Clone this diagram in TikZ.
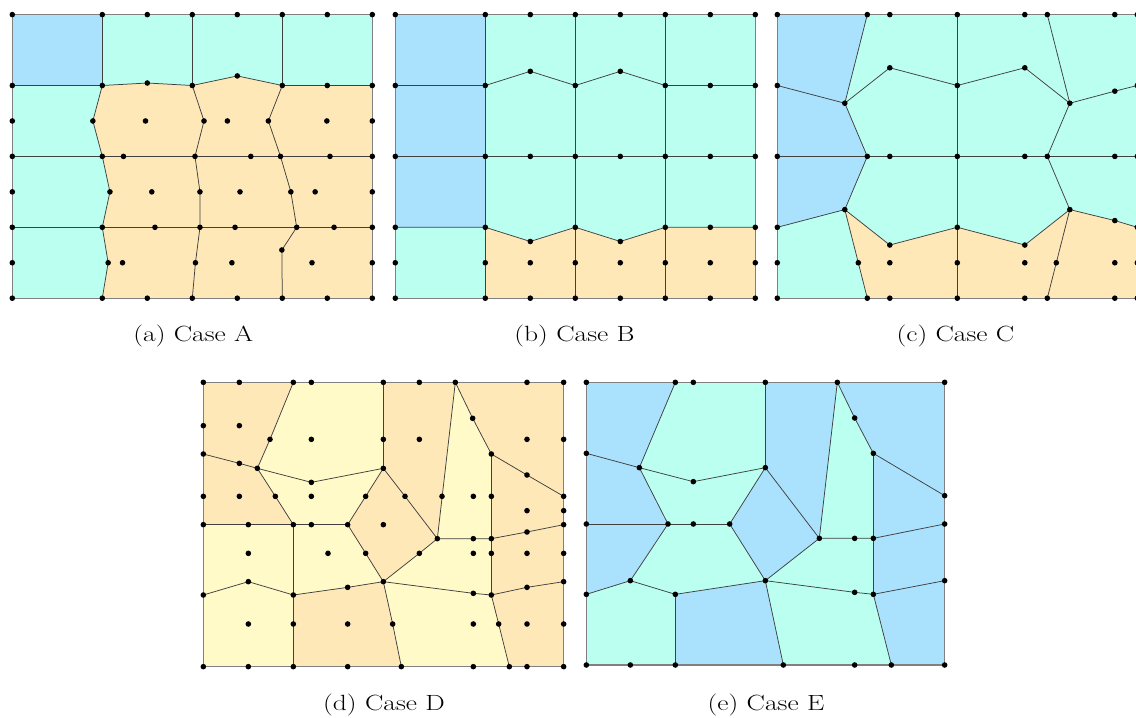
\documentclass[tikz,border=0pt]{standalone}
\usepackage{graphicx}
\definecolor{cblue}{HTML}{AAE2FD}
\definecolor{ccyan}{HTML}{BAFFEF}
\definecolor{corange}{HTML}{FFE8B8}
\definecolor{cyellow}{HTML}{FFFAC8}
\tikzset{
  meshline/.style={draw=black!75, line width=0.75pt, line join=round},
  frameline/.style={draw=black!50, line width=1.2pt},
  capt/.style={font=\fontsize{22}{26}\selectfont, anchor=base, inner sep=0pt},
}
\newcommand\mdots[1]{\foreach \p in {#1}{\fill \p circle[radius=2.8pt];}}
\begin{document}
\begin{tikzpicture}[x=1pt,y=-1pt]
\useasboundingbox (0,0) rectangle (1136,718);
\clip (0,0) rectangle (1136,718);

% ---------------- (a) ----------------
\begin{scope}[shift={(12.3pt,-14.6pt)}, x=45pt, y=-35.45pt]
  \fill[corange] (0,0) rectangle (8,8);
  \fill[cblue] (0,0) rectangle (2,2);
  \fill[ccyan] (2,0)--(8,0)--(8,2)--(6,2)--(5,1.73)--(4,2)--(3,1.93)--(2,2)--cycle;
  \fill[ccyan] (0,2)--(2,2)--(1.79,3)--(2,4)--(2.17,5)--(2,6)--(2.13,7)--(2,8)--(0,8)--cycle;
  \draw[meshline] (0,2)--(2,2)--(3,1.93)--(4,2)--(5,1.73)--(6,2)--(8,2);
  \draw[meshline] (2,0)--(2,2) (4,0)--(4,2) (6,0)--(6,2);
  \draw[meshline] (2,2)--(1.79,3)--(2,4)--(2.17,5)--(2,6)--(2.13,7)--(2,8);
  \draw[meshline] (0,4)--(8,4) (0,6)--(8,6);
  \draw[meshline] (4,2)--(4.26,3)--(4.06,4)--(4.17,5)--(4.17,6)--(4.07,7)--(4,8);
  \draw[meshline] (6,2)--(5.69,3)--(5.96,4)--(6.19,5)--(6.32,6)--(5.99,6.64)--(6,8);
  \draw[frameline] (0,0) rectangle (8,8);
  \mdots{(0,0),(2,0),(3,0),(4,0),(5,0),(6,0),(7,0),(8,0),
    (0,2),(2,2),(3,1.93),(4,2),(5,1.73),(6,2),(7,2),(8,2),
    (0,3),(1.79,3),(2.96,3),(4.26,3),(4.78,3),(5.69,3),(6.99,3),(8,3),
    (0,4),(2,4),(2.47,4),(4.06,4),(5.3,4),(5.96,4),(7.06,4),(8,4),
    (0,5),(2.17,5),(3.1,5),(4.17,5),(5.06,5),(6.19,5),(6.73,5),(8,5),
    (0,6),(2,6),(3.17,6),(4.17,6),(4.95,6),(6.32,6),(7.15,6),(8,6),
    (5.99,6.64),
    (0,7),(2.13,7),(2.45,7),(4.07,7),(4.88,7),(6.66,7),(8,7),
    (0,8),(2,8),(3,8),(4,8),(5,8),(6,8),(7,8),(8,8)}
\end{scope}

% ---------------- (b) ----------------
\begin{scope}[shift={(395.3pt,-14.6pt)}, x=45pt, y=-35.45pt]
  \fill[ccyan] (0,0) rectangle (8,8);
  \fill[cblue] (0,0) rectangle (2,6);
  \fill[corange] (2,6)--(3,6.4)--(4,6)--(5,6.4)--(6,6)--(8,6)--(8,8)--(2,8)--cycle;
  \draw[meshline] (0,2)--(2,2)--(3,1.6)--(4,2)--(5,1.6)--(6,2)--(8,2);
  \draw[meshline] (0,4)--(8,4);
  \draw[meshline] (0,6)--(2,6)--(3,6.4)--(4,6)--(5,6.4)--(6,6)--(8,6);
  \draw[meshline] (2,0)--(2,8) (4,0)--(4,8) (6,0)--(6,8);
  \draw[frameline] (0,0) rectangle (8,8);
  \mdots{(0,0),(2,0),(3,0),(4,0),(5,0),(6,0),(7,0),(8,0),
    (0,2),(2,2),(3,1.6),(4,2),(5,1.6),(6,2),(7,2),(8,2),
    (0,4),(2,4),(3,4),(4,4),(5,4),(6,4),(7,4),(8,4),
    (0,6),(2,6),(3,6.4),(4,6),(5,6.4),(6,6),(7,6),(8,6),
    (0,7),(2,7),(3,7),(4,7),(5,7),(6,7),(7,7),(8,7),
    (0,8),(2,8),(3,8),(4,8),(5,8),(6,8),(7,8),(8,8)}
\end{scope}

% ---------------- (c) ----------------
\begin{scope}[shift={(777.3pt,-14.6pt)}, x=45pt, y=-35.45pt]
  \fill[ccyan] (0,0) rectangle (8,8);
  \fill[cblue] (0,0)--(2,0)--(1.5,2.5)--(2,4)--(1.5,5.5)--(0,6)--cycle;
  \fill[corange] (1.5,5.5)--(2.5,6.5)--(4,6)--(5.5,6.5)--(6.5,5.5)--(7.5,5.81)--(8,6)--(8,8)--(2,8)--cycle;
  \draw[meshline] (2,0)--(1.5,2.5) (0,2)--(1.5,2.5)--(2.5,1.5)--(4,2)--(5.5,1.5)--(6.5,2.5)--(7.5,2.16)--(8,2);
  \draw[meshline] (6,0)--(6.5,2.5);
  \draw[meshline] (4,0)--(4,8);
  \draw[meshline] (1.5,2.5)--(2,4)--(1.5,5.5) (6.5,2.5)--(6,4)--(6.5,5.5);
  \draw[meshline] (0,4)--(8,4);
  \draw[meshline] (0,6)--(1.5,5.5)--(2.5,6.5)--(4,6)--(5.5,6.5)--(6.5,5.5)--(7.5,5.81)--(8,6);
  \draw[meshline] (1.5,5.5)--(2,8) (6.5,5.5)--(6,8);
  \draw[frameline] (0,0) rectangle (8,8);
  \mdots{(0,0),(2,0),(2.5,0),(4,0),(5.5,0),(6,0),(7.5,0),(8,0),
    (0,2),(1.5,2.5),(2.5,1.5),(4,2),(5.5,1.5),(6.5,2.5),(7.5,2.16),(8,2),
    (0,4),(2,4),(2.5,4),(4,4),(5.5,4),(6,4),(7.5,4),(8,4),
    (0,6),(1.5,5.5),(2.5,6.5),(4,6),(5.5,6.5),(6.5,5.5),(7.5,5.81),(8,6),
    (0,7),(1.8,7),(2.5,7),(4,7),(5.5,7),(6.2,7),(7.5,7),(8,7),
    (0,8),(2,8),(2.5,8),(4,8),(5.5,8),(6,8),(7.5,8),(8,8)}
\end{scope}

% ---------------- (d) ----------------
\begin{scope}[shift={(196pt,-375pt)}, x=0.33333pt, y=-0.33333pt]
  \fill[cyellow] (22,22) rectangle (1103,875);
  \fill[corange] (22,22)--(292,22)--(222,193)--(184,280)--(238,364)--(292,449)--(22,449)--cycle;
  \fill[corange] (562,22)--(778,22)--(724,491)--(670,535)--(562,620)--(509,535)--(455,449)--(509,364)--(562,280)--cycle;
  \fill[corange] (778,22)--(1103,22)--(1103,620)--(993,637)--(886,660)--(886,491)--(886,237)--(830,130)--cycle;
  \fill[corange] (292,660)--(455,637)--(562,620)--(590,747)--(616,875)--(292,875)--cycle;
  \fill[corange] (886,660)--(993,637)--(1103,620)--(1103,875)--(940,875)--(908,747)--cycle;
  \draw[meshline] (292,22)--(222,193)--(184,280);
  \draw[meshline] (22,237)--(130,265)--(184,280)--(346,322)--(562,280);
  \draw[meshline] (562,22)--(562,280);
  \draw[meshline] (184,280)--(238,364)--(292,449);
  \draw[meshline] (22,449)--(455,449);
  \draw[meshline] (562,280)--(509,364)--(455,449)--(509,535)--(562,620)--(670,535)--(724,491)--(627,364)--cycle;
  \draw[meshline] (778,22)--(724,491);
  \draw[meshline] (778,22)--(830,130)--(886,237)--(993,300)--(1103,364);
  \draw[meshline] (886,237)--(886,660);
  \draw[meshline] (724,491)--(886,491)--(993,471)--(1103,449);
  \draw[meshline] (292,449)--(292,875);
  \draw[meshline] (22,660)--(157,620)--(292,660)--(455,637)--(562,620)--(832,655)--(886,660)--(993,637)--(1103,620);
  \draw[meshline] (562,620)--(590,747)--(616,875);
  \draw[meshline] (886,660)--(908,747)--(940,875);
  \draw[frameline] (22,22) rectangle (1103,875);
  \mdots{(22,22),(130,22),(292,22),(346,22),(562,22),(670,22),(778,22),(993,22),(1103,22),
    (22,152),(130,152),
    (222,193),(346,193),(562,193),(670,193),(993,193),(1103,193),
    (830,130),(22,237),(886,237),(130,265),(184,280),(562,280),(993,300),(346,322),
    (22,364),(130,364),(238,364),(346,364),(509,364),(627,364),(738,364),(832,364),(886,364),(1103,364),
    (993,407),(1103,407),
    (22,449),(157,449),(292,449),(346,449),(455,449),(562,449),(1103,449),
    (993,471),(724,491),(832,491),(886,491),
    (157,535),(396,535),(509,535),(670,535),(832,535),(886,535),(993,535),(1103,535),
    (157,620),(562,620),(1103,620),(455,637),(993,637),(832,655),
    (22,660),(292,660),(886,660),
    (157,747),(292,747),(455,747),(590,747),(832,747),(908,747),(993,747),(1103,747),
    (22,875),(157,875),(292,875),(455,875),(616,875),(832,875),(940,875),(993,875),(1103,875)}
\end{scope}

% ---------------- (e) ----------------
\begin{scope}[shift={(578pt,-375pt)}, x=0.33333pt, y=-0.33333pt]
  \fill[ccyan] (25,22) rectangle (1100,870);
  \fill[cblue] (25,22)--(292,22)--(184,278)--(270,447)--(25,447)--cycle;
  \fill[cblue] (562,22)--(778,22)--(724,490)--(562,617)--(455,447)--(562,278)--cycle;
  \fill[cblue] (778,22)--(1100,22)--(1100,617)--(886,658)--(886,235)--(830,129)--cycle;
  \fill[cblue] (25,447)--(270,447)--(157,617)--(25,658)--cycle;
  \fill[cblue] (292,658)--(562,617)--(616,870)--(292,870)--cycle;
  \fill[cblue] (886,658)--(1100,617)--(1100,870)--(940,870)--cycle;
  \draw[meshline] (292,22)--(184,278);
  \draw[meshline] (25,235)--(184,278)--(346,320)--(562,278);
  \draw[meshline] (562,22)--(562,278);
  \draw[meshline] (184,278)--(270,447);
  \draw[meshline] (25,447)--(455,447);
  \draw[meshline] (562,278)--(455,447)--(562,617)--(724,490)--cycle;
  \draw[meshline] (778,22)--(724,490);
  \draw[meshline] (778,22)--(830,129)--(886,235)--(1100,362);
  \draw[meshline] (886,235)--(886,658);
  \draw[meshline] (724,490)--(886,490)--(1100,447);
  \draw[meshline] (270,447)--(157,617);
  \draw[meshline] (25,658)--(157,617)--(292,658)--(562,617)--(830,652)--(886,658)--(1100,617);
  \draw[meshline] (292,658)--(292,870);
  \draw[meshline] (562,617)--(616,870);
  \draw[meshline] (886,658)--(940,870);
  \draw[frameline] (25,22) rectangle (1100,870);
  \mdots{(25,22),(292,22),(346,22),(562,22),(778,22),(1100,22),(830,129),(25,235),(886,235),
    (184,278),(562,278),(346,320),(1100,362),
    (25,447),(270,447),(346,447),(455,447),(1100,447),
    (724,490),(830,490),(886,490),
    (157,617),(562,617),(1100,617),(830,652),(25,658),(292,658),(886,658),
    (25,870),(157,870),(292,870),(616,870),(830,870),(940,870),(1100,870)}
\end{scope}

% ---------------- captions ----------------
\node[capt] (capa) at (193.3,341.5) {\scalebox{1.25}[1]{(a)~Case A}};
\node[capt] (capb) at (574.5,341.5) {\scalebox{1.25}[1]{(b)~Case B}};
\node[capt] (capc) at (955.5,341.5) {\scalebox{1.25}[1]{(c)~Case C}};
\node[capt] (capd) at (384,710) {\scalebox{1.25}[1]{(d)~Case D}};
\node[capt] (cape) at (766,710) {\scalebox{1.25}[1]{(e)~Case E}};
\end{tikzpicture}
\end{document}
